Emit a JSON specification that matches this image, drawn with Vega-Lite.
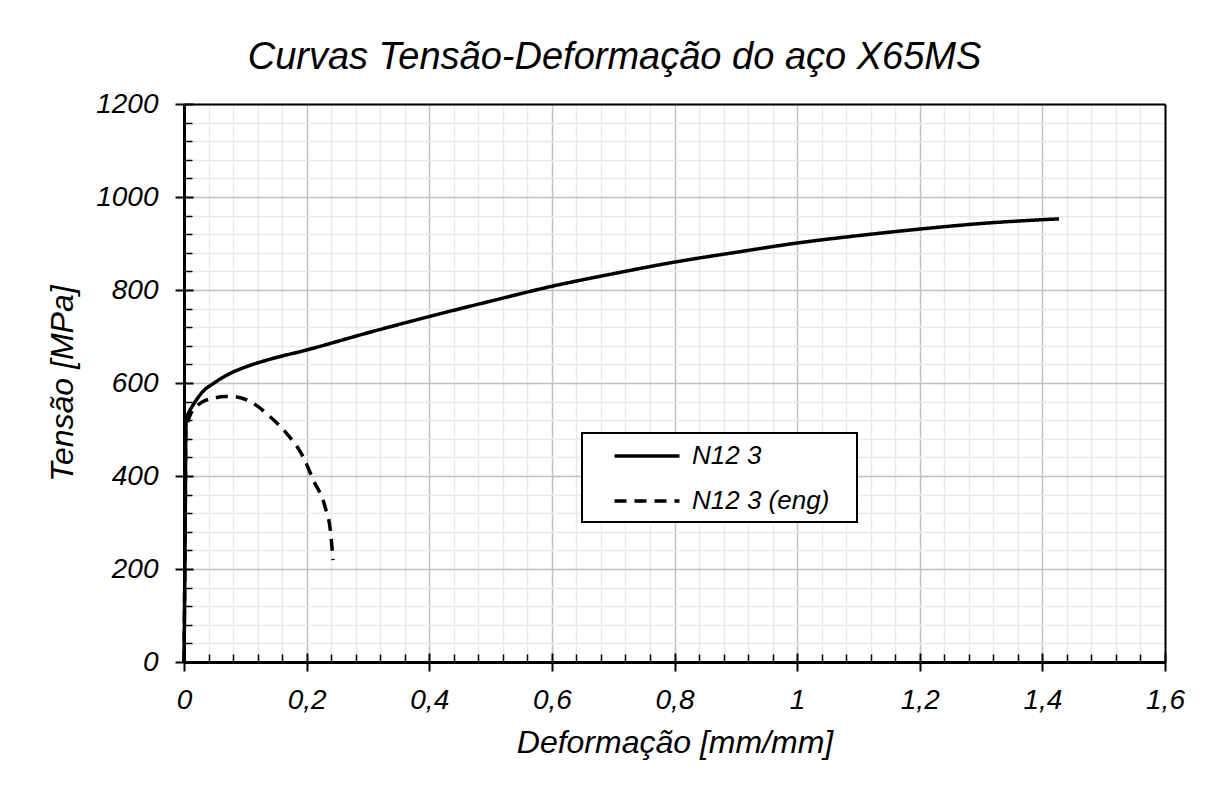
{
  "$schema": "https://vega.github.io/schema/vega-lite/v6.json",
  "width": 981,
  "height": 558,
  "autosize": "none",
  "padding": {"left": 184, "top": 104, "right": 44, "bottom": 127},
  "background": "white",
  "config": {"font": "Liberation Sans", "view": {"stroke": null}, "legend": {"strokeWidth": 2}},
  "title": {
    "text": "Curvas Tensão-Deformação do aço X65MS",
    "fontSize": 38,
    "fontStyle": "italic",
    "fontWeight": "normal",
    "font": "Liberation Sans",
    "color": "black",
    "anchor": "middle",
    "dx": -60,
    "dy": 55,
    "offset": 38,
    "baseline": "alphabetic"
  },
  "data": {
    "values": [
      {"series": "N12 3", "strain": 0, "stress": 0},
      {"series": "N12 3", "strain": 0.002, "stress": 300},
      {"series": "N12 3", "strain": 0.003, "stress": 500},
      {"series": "N12 3", "strain": 0.004, "stress": 522},
      {"series": "N12 3", "strain": 0.008, "stress": 537},
      {"series": "N12 3", "strain": 0.015, "stress": 553},
      {"series": "N12 3", "strain": 0.022, "stress": 567},
      {"series": "N12 3", "strain": 0.031, "stress": 582},
      {"series": "N12 3", "strain": 0.048, "stress": 599},
      {"series": "N12 3", "strain": 0.07, "stress": 617},
      {"series": "N12 3", "strain": 0.108, "stress": 638},
      {"series": "N12 3", "strain": 0.14, "stress": 651},
      {"series": "N12 3", "strain": 0.2, "stress": 671},
      {"series": "N12 3", "strain": 0.3, "stress": 708},
      {"series": "N12 3", "strain": 0.4, "stress": 743},
      {"series": "N12 3", "strain": 0.5, "stress": 776},
      {"series": "N12 3", "strain": 0.6, "stress": 808},
      {"series": "N12 3", "strain": 0.7, "stress": 835},
      {"series": "N12 3", "strain": 0.8, "stress": 860},
      {"series": "N12 3", "strain": 0.9, "stress": 881},
      {"series": "N12 3", "strain": 1.0, "stress": 901},
      {"series": "N12 3", "strain": 1.1, "stress": 917},
      {"series": "N12 3", "strain": 1.2, "stress": 931},
      {"series": "N12 3", "strain": 1.3, "stress": 943},
      {"series": "N12 3", "strain": 1.427, "stress": 953},
      {"series": "N12 3 (eng)", "strain": 0, "stress": 0},
      {"series": "N12 3 (eng)", "strain": 0.002, "stress": 300},
      {"series": "N12 3 (eng)", "strain": 0.003, "stress": 495},
      {"series": "N12 3 (eng)", "strain": 0.006, "stress": 516},
      {"series": "N12 3 (eng)", "strain": 0.01, "stress": 531},
      {"series": "N12 3 (eng)", "strain": 0.02, "stress": 549},
      {"series": "N12 3 (eng)", "strain": 0.031, "stress": 560},
      {"series": "N12 3 (eng)", "strain": 0.048, "stress": 567},
      {"series": "N12 3 (eng)", "strain": 0.066, "stress": 571},
      {"series": "N12 3 (eng)", "strain": 0.086, "stress": 570},
      {"series": "N12 3 (eng)", "strain": 0.108, "stress": 560},
      {"series": "N12 3 (eng)", "strain": 0.14, "stress": 528},
      {"series": "N12 3 (eng)", "strain": 0.167, "stress": 492},
      {"series": "N12 3 (eng)", "strain": 0.194, "stress": 442},
      {"series": "N12 3 (eng)", "strain": 0.211, "stress": 391},
      {"series": "N12 3 (eng)", "strain": 0.23, "stress": 334},
      {"series": "N12 3 (eng)", "strain": 0.239, "stress": 280},
      {"series": "N12 3 (eng)", "strain": 0.243, "stress": 219}
    ]
  },
  "resolve": {
    "scale": {"x": "independent", "y": "independent"},
    "axis": {"x": "independent", "y": "independent"}
  },
  "layer": [
    {
      "mark": {"type": "point", "opacity": 0},
      "encoding": {
        "x": {
          "field": "strain", "type": "quantitative",
          "scale": {"domain": [0, 1.6], "nice": false, "zero": false},
          "axis": {
            "orient": "bottom",
            "values": [0.04, 0.08, 0.12, 0.16, 0.24, 0.28, 0.32, 0.36, 0.44, 0.48, 0.52, 0.56, 0.64, 0.68, 0.72, 0.76, 0.84, 0.88, 0.92, 0.96, 1.04, 1.08, 1.12, 1.16, 1.24, 1.28, 1.32, 1.36, 1.44, 1.48, 1.52, 1.56],
            "grid": true, "gridColor": "#e9e9e9", "gridWidth": 1.5,
            "domain": false, "labels": false, "title": null,
            "ticks": true, "tickSize": -8, "tickColor": "black", "tickWidth": 1.5,
            "zindex": 0
          }
        },
        "y": {
          "field": "stress", "type": "quantitative",
          "scale": {"domain": [0, 1200], "nice": false, "zero": false},
          "axis": {
            "orient": "left",
            "values": [40, 80, 120, 160, 240, 280, 320, 360, 440, 480, 520, 560, 640, 680, 720, 760, 840, 880, 920, 960, 1040, 1080, 1120, 1160],
            "grid": true, "gridColor": "#e9e9e9", "gridWidth": 1.5,
            "domain": false, "labels": false, "title": null,
            "ticks": true, "tickSize": -8, "tickColor": "black", "tickWidth": 1.5,
            "zindex": 0
          }
        }
      }
    },
    {
      "mark": {"type": "point", "opacity": 0},
      "encoding": {
        "x": {
          "field": "strain", "type": "quantitative",
          "scale": {"domain": [0, 1.6], "nice": false, "zero": false},
          "axis": {
            "orient": "bottom",
            "values": [0, 0.2, 0.4, 0.6, 0.8, 1, 1.2, 1.4, 1.6],
            "grid": true, "gridColor": "#c0c0c0", "gridWidth": 1.5,
            "domain": false, "labels": false, "title": null,
            "ticks": true, "tickSize": -9, "tickColor": "black", "tickWidth": 2,
            "zindex": 0
          }
        },
        "y": {
          "field": "stress", "type": "quantitative",
          "scale": {"domain": [0, 1200], "nice": false, "zero": false},
          "axis": {
            "orient": "left",
            "values": [0, 200, 400, 600, 800, 1000, 1200],
            "grid": true, "gridColor": "#c0c0c0", "gridWidth": 1.5,
            "domain": false, "labels": false, "title": null,
            "ticks": true, "tickSize": -9, "tickColor": "black", "tickWidth": 2,
            "zindex": 0
          }
        }
      }
    },
    {
      "mark": {"type": "point", "opacity": 0},
      "encoding": {
        "x": {
          "field": "strain", "type": "quantitative",
          "scale": {"domain": [0, 1.6], "nice": false, "zero": false},
          "axis": {
            "orient": "top", "grid": false, "ticks": false, "labels": false, "title": null,
            "domain": true, "domainColor": "black", "domainWidth": 2, "zindex": 1
          }
        },
        "y": {
          "field": "stress", "type": "quantitative",
          "scale": {"domain": [0, 1200], "nice": false, "zero": false},
          "axis": {
            "orient": "right", "grid": false, "ticks": false, "labels": false, "title": null,
            "domain": true, "domainColor": "black", "domainWidth": 2, "zindex": 1
          }
        }
      }
    },
    {
      "mark": {"type": "line", "color": "black", "strokeWidth": 3.5, "strokeCap": "butt", "strokeJoin": "round", "interpolate": "monotone"},
      "encoding": {
        "x": {
          "field": "strain", "type": "quantitative",
          "scale": {"domain": [0, 1.6], "nice": false, "zero": false},
          "axis": {
            "orient": "bottom",
            "values": [0, 0.2, 0.4, 0.6, 0.8, 1, 1.2, 1.4, 1.6],
            "labelExpr": "replace(format(datum.value, '~g'), '.', ',')",
            "grid": false,
            "domain": true, "domainColor": "black", "domainWidth": 3,
            "ticks": true, "tickSize": 9, "tickColor": "black", "tickWidth": 2,
            "labelFont": "Liberation Sans", "labelFontSize": 28, "labelFontStyle": "italic", "labelColor": "black",
            "labelPadding": 15, "labelFlush": false, "labelOverlap": false,
            "title": "Deformação [mm/mm]",
            "titleFont": "Liberation Sans", "titleFontSize": 32, "titleFontStyle": "italic", "titleFontWeight": "normal", "titleColor": "black",
            "titlePadding": 13,
            "zindex": 1
          }
        },
        "y": {
          "field": "stress", "type": "quantitative",
          "scale": {"domain": [0, 1200], "nice": false, "zero": false},
          "axis": {
            "orient": "left",
            "values": [0, 200, 400, 600, 800, 1000, 1200],
            "format": "d",
            "grid": false,
            "domain": true, "domainColor": "black", "domainWidth": 3,
            "ticks": true, "tickSize": 9, "tickColor": "black", "tickWidth": 2,
            "labelFont": "Liberation Sans", "labelFontSize": 28, "labelFontStyle": "italic", "labelColor": "black",
            "labelPadding": 17, "labelFlush": false, "labelOverlap": false,
            "title": "Tensão [MPa]",
            "titleFont": "Liberation Sans", "titleFontSize": 32, "titleFontStyle": "italic", "titleFontWeight": "normal", "titleColor": "black",
            "titlePadding": 16,
            "zindex": 1
          }
        },
        "strokeDash": {
          "field": "series", "type": "nominal",
          "scale": {"domain": ["N12 3", "N12 3 (eng)"], "range": [[1, 0], [12, 8]]},
          "legend": {
            "title": null,
            "orient": "none",
            "legendX": 398,
            "legendY": 329,
            "direction": "vertical",
            "fillColor": "white",
            "strokeColor": "black",
            "padding": 8,
            "symbolType": "M-2.5,0H2.5",
            "symbolSize": 676,
            "symbolStrokeWidth": 3.5,
            "symbolStrokeColor": "black",
            "symbolOffset": 42,
            "labelFont": "Liberation Sans",
            "labelFontSize": 26,
            "labelFontStyle": "italic",
            "labelColor": "black",
            "labelOffset": 30,
            "labelLimit": 400,
            "labelExpr": "datum.label + '\u2800'",
            "rowPadding": 17
          }
        }
      }
    }
  ]
}
